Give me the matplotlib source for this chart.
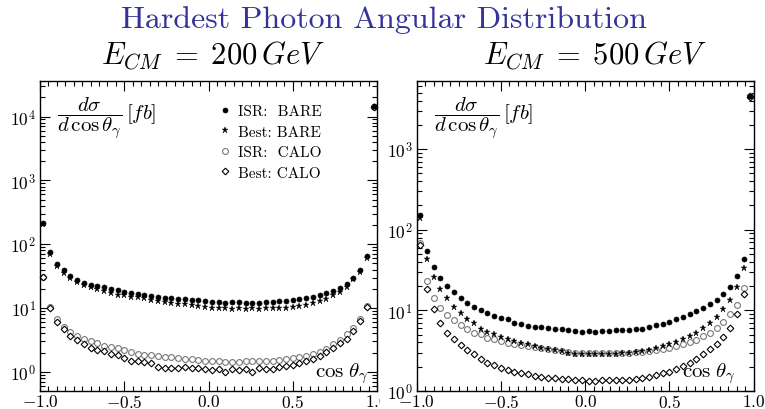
import numpy as np
import matplotlib
matplotlib.use("Agg")
import matplotlib.pyplot as plt
from matplotlib.ticker import MultipleLocator, NullFormatter, LogLocator
from matplotlib.transforms import Bbox, TransformedBbox

plt.rcParams["font.family"] = "serif"
plt.rcParams["font.serif"] = ["cmr10", "DejaVu Serif"]
plt.rcParams["mathtext.fontset"] = "cm"
plt.rcParams["axes.formatter.use_mathtext"] = True

# ==============================
# data: 50 bins in cos(theta), width 0.04
# ==============================
cos_theta = np.arange(-0.98, 1.0, 0.04)

# E_CM = 200 GeV
isr_bare_200 = [212, 74, 48, 39, 32, 27.5, 25, 23.3, 22, 21,
                19.7, 19, 18, 17.2, 16.5, 16, 15.4, 15, 14.5, 14.1,
                13.8, 13.6, 13.3, 13.1, 12.9, 12.4, 12.5, 12.1, 12.4, 12.3,
                12.1, 12.1, 12.0, 12.3, 12.4, 12.8, 13.0, 13.3, 13.8, 14.2,
                15.0, 15.8, 17.0, 18.5, 20.5, 24, 30, 40, 65, 14500]
best_bare_200 = [205, 70, 45, 35, 30, 25.5, 22.8, 21, 19.5, 18.5,
                 17.2, 16.2, 15.8, 15, 14.6, 14.1, 13.3, 12.8, 12.4, 12.1,
                 11.7, 11.5, 11.0, 10.8, 10.5, 10.0, 9.9, 10.0, 9.8, 9.9,
                 9.8, 9.9, 9.8, 9.9, 9.9, 10.0, 10.1, 10.4, 10.8, 11.2,
                 11.9, 12.8, 14, 15.8, 17.5, 21, 28, 37, 61, 14000]
isr_calo_200 = [31, 10.4, 6.6, 5.0, 4.25, 3.65, 3.25, 3.05, 2.8, 2.58,
                2.45, 2.33, 2.18, 2.05, 1.92, 1.86, 1.80, 1.76, 1.72, 1.68,
                1.65, 1.56, 1.56, 1.52, 1.48, 1.45, 1.47, 1.44, 1.44, 1.43,
                1.46, 1.46, 1.47, 1.48, 1.5, 1.55, 1.6, 1.63, 1.68, 1.76,
                1.87, 2.04, 2.3, 2.69, 3.2, 3.86, 4.9, 6.7, 10.6, 14200]
best_calo_200 = [31, 9.9, 6.0, 4.6, 3.6, 3.1, 2.75, 2.38, 2.18, 2.08,
                 1.87, 1.8, 1.62, 1.48, 1.47, 1.44, 1.38, 1.2, 1.16, 1.16,
                 1.16, 1.2, 1.13, 1.13, 1.09, 1.05, 1.10, 1.0, 1.12, 1.05,
                 1.10, 1.0, 1.14, 1.1, 1.12, 1.18, 1.25, 1.3, 1.39, 1.47,
                 1.6, 1.76, 2.04, 2.4, 2.86, 3.3, 4.4, 6.3, 10.3, 14000]

# E_CM = 500 GeV
isr_bare_500 = [153, 55, 34.6, 25, 20.1, 16.9, 14.1, 12.2, 11.1, 10.2,
                9.3, 8.5, 8.0, 7.75, 7.05, 6.86, 6.41, 6.29, 6.17, 6.0,
                5.95, 5.83, 5.66, 5.56, 5.45, 5.55, 5.4, 5.55, 5.55, 5.66,
                5.66, 5.72, 5.83, 5.95, 6.29, 6.53, 6.8, 7.2, 7.75, 8.3,
                9.0, 9.7, 10.7, 12.0, 13.5, 16.0, 19.5, 27, 43, 4600]
best_bare_500 = [138, 44, 26.3, 18.6, 14.1, 11.1, 9.2, 7.9, 6.9, 5.95,
                 5.4, 5.05, 4.73, 4.47, 4.17, 3.98, 3.87, 3.61, 3.45, 3.36,
                 3.23, 3.13, 2.94, 2.91, 2.85, 2.85, 2.85, 2.85, 2.91, 2.91,
                 2.94, 3.0, 3.02, 3.1, 3.25, 3.4, 3.6, 3.85, 4.1, 4.4,
                 4.8, 5.3, 6.0, 7.0, 8.2, 10.5, 13.5, 19.5, 34, 4500]
isr_calo_500 = [68, 23.2, 14.1, 10.8, 8.7, 7.6, 6.53, 5.95, 5.3, 5.05,
                4.59, 4.47, 4.17, 3.98, 3.87, 3.72, 3.61, 3.51, 3.45, 3.36,
                3.23, 3.13, 3.05, 3.0, 2.94, 2.92, 2.92, 2.92, 2.92, 2.95,
                2.95, 3.0, 3.02, 3.05, 3.13, 3.2, 3.36, 3.45, 3.61, 3.85,
                4.1, 4.3, 4.8, 5.3, 6.0, 7.2, 9.0, 11.7, 19, 4500]
best_calo_500 = [64, 18.3, 10.3, 7.05, 5.3, 4.47, 3.69, 3.2, 2.85, 2.47,
                 2.25, 2.1, 1.95, 1.82, 1.74, 1.66, 1.61, 1.53, 1.51, 1.47,
                 1.44, 1.40, 1.39, 1.36, 1.35, 1.32, 1.34, 1.35, 1.35, 1.36,
                 1.37, 1.38, 1.40, 1.44, 1.50, 1.57, 1.65, 1.74, 1.86, 2.05,
                 2.25, 2.5, 2.9, 3.3, 3.8, 4.7, 6.0, 8.9, 15.8, 4400]

labels = ["ISR:  BARE", "Best: BARE", "ISR:  CALO", "Best: CALO"]

fig = plt.figure(figsize=(7.65, 4.10), dpi=100)
ax1 = fig.add_axes([40 / 765, 18 / 410, 337 / 765, 310 / 410])
ax2 = fig.add_axes([416.7 / 765, 18 / 410, 337 / 765, 310 / 410])


def draw(ax, series, ylim, label_x):
    a, b, c, d = series
    ax.plot(cos_theta, c, ls="none", marker="o", ms=4.2, mfc="white",
            mec="#777777", mew=0.8, label=labels[2], clip_on=False)
    ax.plot(cos_theta, d, ls="none", marker="D", ms=3.4, mfc="white",
            mec="black", mew=0.8, label=labels[3], clip_on=False)
    ax.plot(cos_theta, b, ls="none", marker="*", ms=5, mfc="black",
            mec="black", mew=0.3, label=labels[1], clip_on=False)
    ax.plot(cos_theta, a, ls="none", marker="o", ms=3.6, mfc="black",
            mec="black", mew=0.5, label=labels[0], clip_on=False)
    ax.set_yscale("log")
    ax.set_xlim(-1, 1)
    ax.set_ylim(*ylim)
    ax.xaxis.set_major_locator(MultipleLocator(0.5))
    ax.xaxis.set_minor_locator(MultipleLocator(0.05))
    ax.yaxis.set_minor_locator(LogLocator(subs=np.arange(2, 10)))
    ax.yaxis.set_minor_formatter(NullFormatter())
    ax.tick_params(which="both", direction="in", top=True, right=True,
                   width=0.8, labelsize=12.5)
    ax.tick_params(which="major", length=7)
    ax.tick_params(which="minor", length=3.5)
    ax.tick_params(axis="x", pad=1.5)
    ax.tick_params(axis="y", pad=3)
    for s in ax.spines.values():
        s.set_linewidth(1.0)
    ax.text(0.05, 0.885,
            r"$\dfrac{d\sigma}{d\,\cos\theta_\gamma}\,[fb]$",
            transform=ax.transAxes, fontsize=15, ha="left", va="center")
    ax.text(label_x, 0.018, r"$\cos\,\theta_\gamma$", transform=ax.transAxes,
            fontsize=15, ha="right", va="bottom")


draw(ax1, (isr_bare_200, best_bare_200, isr_calo_200, best_calo_200),
     (0.5, 3.6e4), 0.975)
draw(ax2, (isr_bare_500, best_bare_500, isr_calo_500, best_calo_500),
     (1, 7000), 0.945)

h, l = ax1.get_legend_handles_labels()
order = [3, 2, 0, 1]
ax1.legend([h[i] for i in order], [l[i] for i in order], loc="upper left",
           bbox_to_anchor=(0.53, 0.925), frameon=False, fontsize=11,
           handlelength=0.8, handletextpad=0.5, labelspacing=0.45,
           borderpad=0, borderaxespad=0)

# the two panels were separate pictures: clip labels at the seam
fig.canvas.draw()
left_box = TransformedBbox(Bbox([[0, 0], [380 / 765, 1]]), fig.transFigure)
right_box = TransformedBbox(Bbox([[380 / 765, 0], [1, 1]]), fig.transFigure)
for ax, box in ((ax1, left_box), (ax2, right_box)):
    for t in ax.get_xticklabels() + ax.get_yticklabels():
        t.set_clip_box(box)
        t.set_clip_on(True)

fig.text(0.502, 0.952, "Hardest Photon Angular Distribution", color="#33339a",
         fontsize=23, ha="center", va="center")
fig.text(213 / 765, 0.865, r"$E_{CM}\;=\;200\,GeV$", fontsize=22,
         ha="center", va="center")
fig.text(595 / 765, 0.865, r"$E_{CM}\;=\;500\,GeV$", fontsize=22,
         ha="center", va="center")

fig.savefig("out.png", dpi=100)
